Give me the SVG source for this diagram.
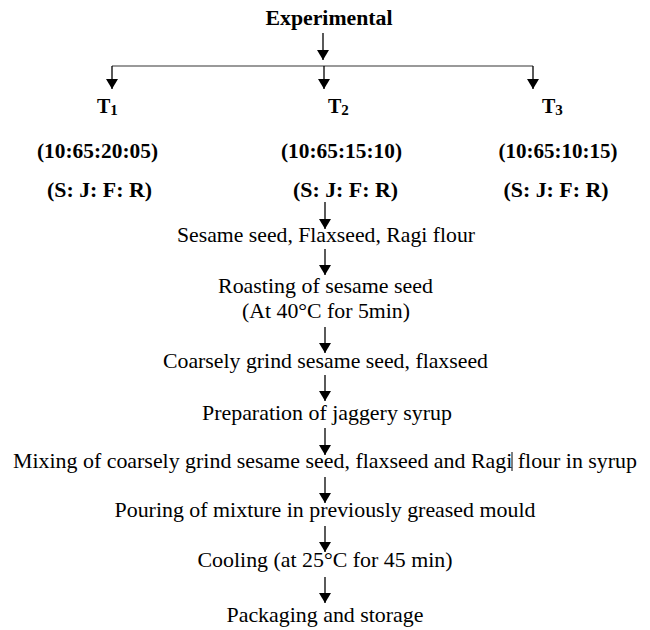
<svg xmlns="http://www.w3.org/2000/svg" width="650" height="630" viewBox="0 0 650 630">
<defs>
<marker id="ah" viewBox="0 0 10 12" refX="10" refY="6" markerWidth="10" markerHeight="12" markerUnits="userSpaceOnUse" orient="auto">
<path d="M0,0 L10,6 L0,12 Z" fill="#000"/>
</marker>
<style>
.b{font-family:"Liberation Serif","Times New Roman",serif;font-weight:bold;font-size:20px;fill:#000}
.r{font-family:"Liberation Serif","Times New Roman",serif;font-weight:normal;font-size:21px;fill:#000}
.m{text-anchor:middle}
.c{stroke:#000;stroke-width:1.3;fill:none;marker-end:url(#ah)}
.h{stroke:#777;stroke-width:1.6;fill:none}
</style>
</defs>
<rect width="650" height="630" fill="#fff"/>

<g id="connectors">
<line class="c" x1="323" y1="33" x2="323" y2="60"/>
<line class="h" x1="112" y1="66" x2="533" y2="66"/>
<line class="c" x1="112" y1="66" x2="112" y2="89"/>
<line class="c" x1="324" y1="66" x2="324" y2="89"/>
<line class="c" x1="533" y1="66" x2="533" y2="89"/>
<line class="c" x1="325" y1="202" x2="325" y2="229"/>
<line class="c" x1="325" y1="249" x2="325" y2="275"/>
<line class="c" x1="325" y1="327" x2="325" y2="353"/>
<line class="c" x1="325" y1="375" x2="325" y2="401"/>
<line class="c" x1="325" y1="428" x2="325" y2="455"/>
<line class="c" x1="325" y1="477" x2="325" y2="503"/>
<line class="c" x1="325" y1="526" x2="325" y2="552"/>
<line class="c" x1="325" y1="577" x2="325" y2="603"/>
</g>

<g id="experimental"><text class="b m" x="329" y="25" textLength="127" lengthAdjust="spacingAndGlyphs">Experimental</text></g>

<g id="t1">
<text class="b" x="97" y="113">T<tspan font-size="15" dy="2">1</tspan></text>
<text class="b m" x="97.5" y="158" textLength="121" lengthAdjust="spacingAndGlyphs">(10:65:20:05)</text>
<text class="b m" x="99.5" y="197" textLength="105" lengthAdjust="spacingAndGlyphs">(S: J: F: R)</text>
</g>
<g id="t2">
<text class="b" x="328" y="113">T<tspan font-size="15" dy="2">2</tspan></text>
<text class="b m" x="341.5" y="158" textLength="121" lengthAdjust="spacingAndGlyphs">(10:65:15:10)</text>
<text class="b m" x="345.5" y="197" textLength="105" lengthAdjust="spacingAndGlyphs">(S: J: F: R)</text>
</g>
<g id="t3">
<text class="b" x="542" y="113">T<tspan font-size="15" dy="2">3</tspan></text>
<text class="b m" x="558" y="158" textLength="119" lengthAdjust="spacingAndGlyphs">(10:65:10:15)</text>
<text class="b m" x="556" y="197" textLength="105" lengthAdjust="spacingAndGlyphs">(S: J: F: R)</text>
</g>

<g id="step1"><text class="r m" x="326" y="242" textLength="298" lengthAdjust="spacingAndGlyphs">Sesame seed, Flaxseed, Ragi flour</text></g>
<g id="step2">
<text class="r m" x="325.5" y="293" textLength="215" lengthAdjust="spacingAndGlyphs">Roasting of sesame seed</text>
<text class="r m" x="326" y="318" textLength="168" lengthAdjust="spacingAndGlyphs">(At 40°C for 5min)</text>
</g>
<g id="step3"><text class="r m" x="325.5" y="368" textLength="325" lengthAdjust="spacingAndGlyphs">Coarsely grind sesame seed, flaxseed</text></g>
<g id="step4"><text class="r m" x="327" y="420" textLength="250" lengthAdjust="spacingAndGlyphs">Preparation of jaggery syrup</text></g>
<g id="step5">
<text class="r m" x="325" y="468" textLength="624" lengthAdjust="spacingAndGlyphs">Mixing of coarsely grind sesame seed, flaxseed and Ragi flour in syrup</text>
<line x1="512" y1="452" x2="512" y2="471" stroke="#000" stroke-width="1"/>
</g>
<g id="step6"><text class="r m" x="325" y="517" textLength="421" lengthAdjust="spacingAndGlyphs">Pouring of mixture in previously greased mould</text></g>
<g id="step7"><text class="r m" x="325" y="567" textLength="255" lengthAdjust="spacingAndGlyphs">Cooling (at 25°C for 45 min)</text></g>
<g id="step8"><text class="r m" x="325" y="622" textLength="197" lengthAdjust="spacingAndGlyphs">Packaging and storage</text></g>
</svg>
